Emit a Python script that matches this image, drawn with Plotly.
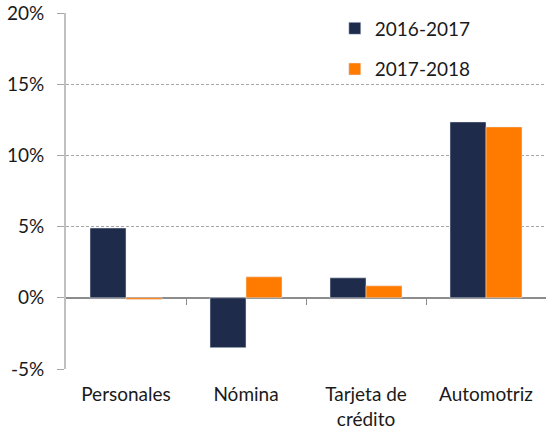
import plotly.graph_objects as go

categories = ["Personales", "Nómina", "Tarjeta de<br>crédito", "Automotriz"]
serie_2016_2017 = [4.9, -3.5, 1.4, 12.35]
serie_2017_2018 = [-0.12, 1.47, 0.84, 12.0]
tick_values = [-5, 0, 5, 10, 15, 20]
tick_labels = ["-5%", "0%", "5%", "10%", "15%", "20%"]
boundaries = [0.5, 1.5, 2.5, 3.5]

FONT = "Lato"
TXT = "#1a1a1a"
FS = 19

fig = go.Figure()
fig.add_trace(go.Bar(x=categories, y=serie_2016_2017, name="2016-2017",
                     marker=dict(color="#1e2b4a"), legendgroup="a"))
fig.add_trace(go.Bar(x=categories, y=serie_2017_2018, name="2017-2018",
                     marker=dict(color="#ff7b00"), legendgroup="b"))
# helper (invisible) trace so the boundary-tick axis is drawn
fig.add_trace(go.Scatter(x=boundaries, y=[None] * len(boundaries), xaxis="x2",
                         yaxis="y", showlegend=False, hoverinfo="skip",
                         mode="markers", marker=dict(opacity=0)))

fig.update_layout(
    width=546, height=431,
    margin=dict(l=66, r=0, t=13, b=62, autoexpand=False),
    paper_bgcolor="white", plot_bgcolor="white",
    font=dict(family=FONT, size=FS, color=TXT),
    barmode="group", bargap=0.4, bargroupgap=0,
    showlegend=True,
    legend=dict(x=0.56, y=1.01, xanchor="left", yanchor="top",
                bgcolor="rgba(0,0,0,0)", tracegroupgap=13,
                font=dict(family=FONT, size=FS, color=TXT)),
    xaxis=dict(type="category", showline=False, showgrid=False, zeroline=False,
               automargin=False,
               ticks="", ticklabelstandoff=12, tickfont=dict(size=FS, color=TXT)),
    xaxis2=dict(overlaying="x", anchor="free", position=0.2, range=[-0.5, 3.5],
                tickvals=boundaries, ticks="outside", ticklen=6, automargin=False,
                tickcolor="#8c8c8c", tickwidth=1, showticklabels=False,
                showline=False, showgrid=False, zeroline=False),
    yaxis=dict(range=[-5, 20], tickvals=tick_values, ticktext=tick_labels,
               automargin=False, ticklabelposition="outside", ticklabelstandoff=9,
               showgrid=True, gridcolor="#a6a6a6", griddash="3px,2px", gridwidth=1,
               zeroline=True, zerolinecolor="#8c8c8c", zerolinewidth=1.5,
               showline=True, linecolor="#c0c0c0", linewidth=2,
               ticks="outside", ticklen=7, tickcolor="#a6a6a6",
               tickfont=dict(size=FS, color=TXT)),
)

fig.write_html("out.html", config={"displayModeBar": False},
               post_script="document.body.style.margin='0';document.body.style.padding='0';")
